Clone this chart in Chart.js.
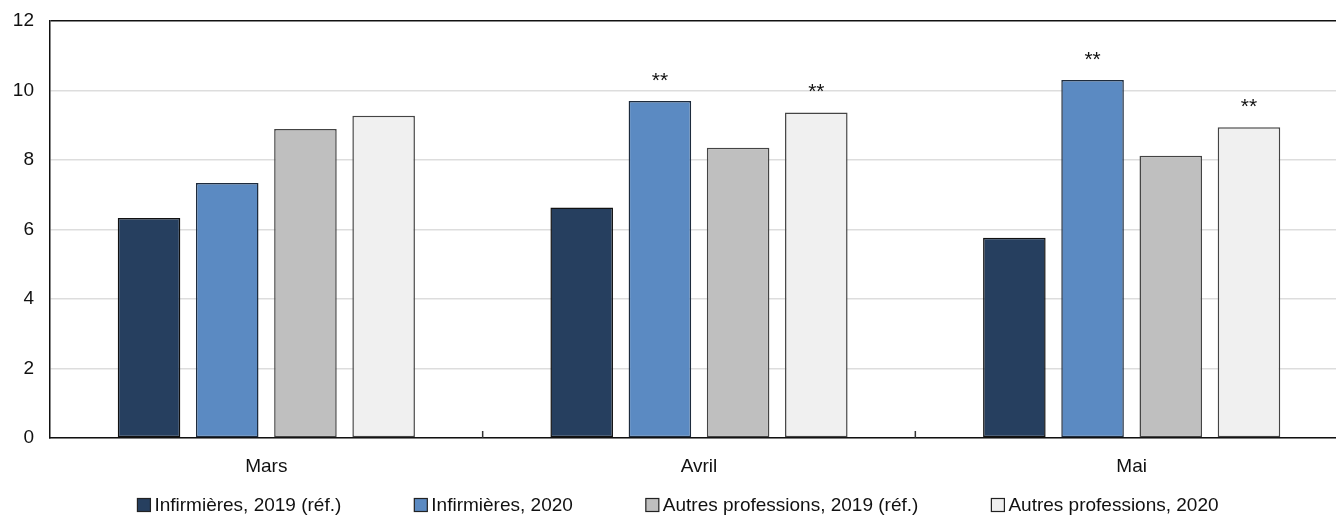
<!DOCTYPE html>
<html lang="fr">
<head>
<meta charset="utf-8">
<script src="https://cdn.jsdelivr.net/npm/chart.js@4/dist/chart.umd.min.js"></script>
<style>
    html, body { margin: 0; padding: 0; background: #fff; overflow: hidden; }
    /* the plot runs a little past the right edge of the window, as in the reference */
    #wrap { width: 1348px; height: 516px; position: relative; }
</style>
</head>
<body>
<div id="wrap"><canvas id="chart"></canvas></div>
<script>
// Data
const categories = ['Mars', 'Avril', 'Mai'];
const seriesLabels = ['Infirmières, 2019 (réf.)', 'Infirmières, 2020', 'Autres professions, 2019 (réf.)', 'Autres professions, 2020'];
const nurses2019 = [6.33, 6.63, 5.76];
const nurses2020 = [7.34, 9.70, 10.30];
const others2019 = [8.89, 8.35, 8.12];
const others2020 = [9.27, 9.37, 8.94];
// "**" markers (significant difference)
const nurses2020Stars = [false, true, true];
const others2020Stars = [false, true, true];
const yTicks = [0, 2, 4, 6, 8, 10, 12];

const FONT_FAMILY = '"Liberation Sans Narrow", "Arial Narrow", "Liberation Sans", Arial, sans-serif';
const FONT_SIZE = 19;

const fills = ['#263f5f', '#5b8ac2', '#bfbfbf', '#f0f0f0'];
const borders = ['#111111', '#1d2b3d', '#444444', '#444444'];

// Category separator ticks, pointing up from the axis
const separatorTicks = {
    id: 'separatorTicks',
    afterDatasetsDraw(chart) {
        const x = chart.scales.x;
        const ctx = chart.ctx;
        ctx.save();
        ctx.strokeStyle = '#333';
        ctx.lineWidth = 1.5;
        for (let i = 0; i < categories.length - 1; i++) {
            const px = (x.getPixelForValue(i) + x.getPixelForValue(i + 1)) / 2;
            ctx.beginPath();
            ctx.moveTo(px, chart.chartArea.bottom);
            ctx.lineTo(px, chart.chartArea.bottom - 7);
            ctx.stroke();
        }
        ctx.restore();
    }
};

// "**" above flagged bars
const starLabels = {
    id: 'starLabels',
    afterDatasetsDraw(chart) {
        const ctx = chart.ctx;
        ctx.save();
        ctx.font = '21px ' + FONT_FAMILY;
        ctx.fillStyle = '#111';
        ctx.textAlign = 'center';
        ctx.textBaseline = 'alphabetic';
        chart.data.datasets.forEach((ds, di) => {
            if (!ds.stars) return;
            chart.getDatasetMeta(di).data.forEach((bar, i) => {
                if (ds.stars[i]) ctx.fillText('**', bar.x, bar.y - 14);
            });
        });
        ctx.restore();
    }
};

// Legend row drawn at the bottom of the canvas
const bottomLegend = {
    id: 'bottomLegend',
    afterDraw(chart) {
        const ctx = chart.ctx;
        const box = 13, gap = 4, spacing = 73;
        const centerX = 678, y = 505;
        ctx.save();
        ctx.font = FONT_SIZE + 'px ' + FONT_FAMILY;
        const items = chart.data.datasets.map(ds => ({
            ds: ds,
            w: box + gap + ctx.measureText(ds.label).width
        }));
        const total = items.reduce((s, it) => s + it.w, 0) + spacing * (items.length - 1);
        let x = centerX - total / 2;
        items.forEach(it => {
            ctx.fillStyle = it.ds.backgroundColor;
            ctx.fillRect(x, y - box / 2, box, box);
            ctx.strokeStyle = '#222';
            ctx.lineWidth = 1.2;
            ctx.strokeRect(x, y - box / 2, box, box);
            ctx.fillStyle = '#111';
            ctx.textBaseline = 'middle';
            ctx.textAlign = 'left';
            ctx.fillText(it.ds.label, x + box + gap, y + 1);
            x += it.w + spacing;
        });
        ctx.restore();
    }
};

function makeDataset(i, values, stars) {
    return {
        label: seriesLabels[i],
        data: values,
        backgroundColor: fills[i],
        borderColor: borders[i],
        borderWidth: 1.5,
        borderSkipped: false,
        stars: stars || null
    };
}

document.addEventListener('DOMContentLoaded', function () {
    const ctx = document.getElementById('chart').getContext('2d');
    new Chart(ctx, {
        type: 'bar',
        data: {
            labels: categories,
            datasets: [
                makeDataset(0, nurses2019),
                makeDataset(1, nurses2020, nurses2020Stars),
                makeDataset(2, others2019),
                makeDataset(3, others2020, others2020Stars)
            ]
        },
        options: {
            responsive: true,
            maintainAspectRatio: false,
            animation: false,
            events: [],
            layout: { padding: { top: 21, right: 0, bottom: 0, left: 0 } },
            datasets: { bar: { categoryPercentage: 0.723, barPercentage: 0.8 } },
            plugins: {
                legend: { display: false },
                tooltip: { enabled: false }
            },
            scales: {
                x: {
                    afterFit: function (scale) { scale.height = 78; },
                    grid: { display: false, drawTicks: false },
                    border: { display: true, color: '#111', width: 1.5 },
                    ticks: {
                        padding: 17,
                        color: '#111',
                        font: { family: FONT_FAMILY, size: FONT_SIZE }
                    }
                },
                y: {
                    min: 0,
                    max: 12,
                    afterFit: function (scale) {
                        scale.width = 50;
                        scale.paddingTop = 0;
                        scale.paddingBottom = 0;
                    },
                    afterBuildTicks: function (scale) {
                        scale.ticks = yTicks.map(v => ({ value: v }));
                    },
                    grid: {
                        drawTicks: false,
                        lineWidth: 1.5,
                        color: function (c) {
                            return c.tick && c.tick.value === 12 ? '#111' : '#dddddd';
                        }
                    },
                    border: { display: true, color: '#111', width: 1.5 },
                    ticks: {
                        padding: 16,
                        color: '#111',
                        font: { family: FONT_FAMILY, size: FONT_SIZE }
                    }
                }
            }
        },
        plugins: [separatorTicks, starLabels, bottomLegend]
    });
});
</script>
</body>
</html>
